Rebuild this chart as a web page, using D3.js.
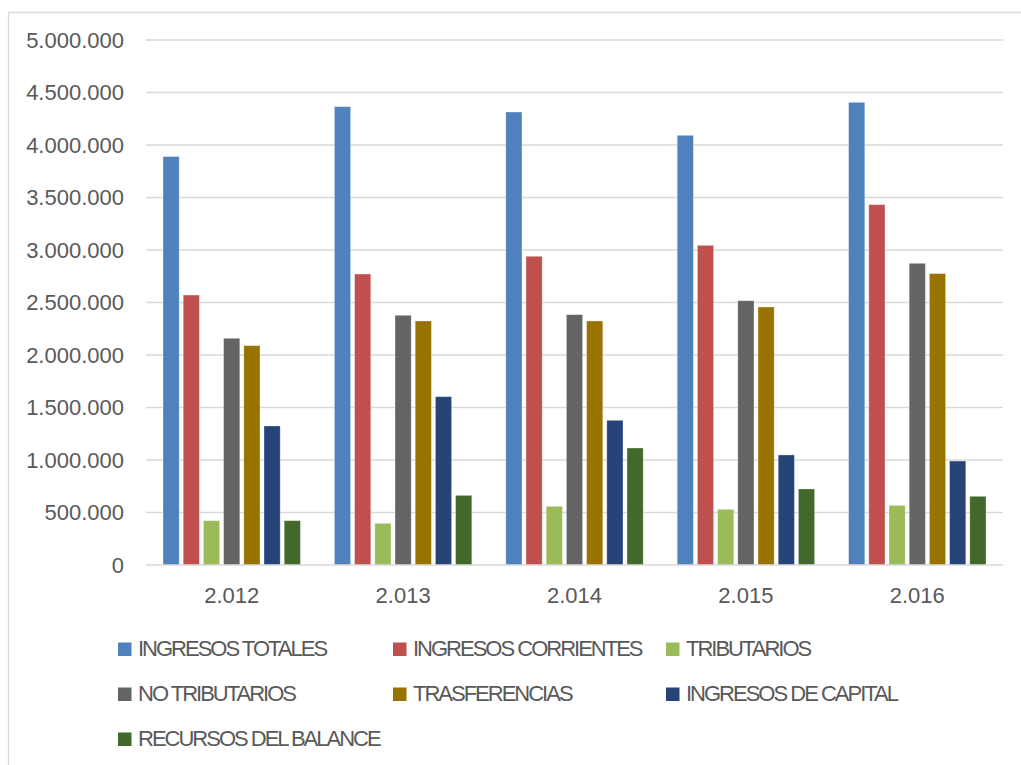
<!DOCTYPE html>
<html>
<head>
<meta charset="utf-8">
<script src="https://cdn.jsdelivr.net/npm/d3@7/dist/d3.min.js"></script>
<style>
  html, body { margin: 0; padding: 0; background: #fff; }
  svg { display: block; font-family: "Liberation Sans", Arial, sans-serif; }
</style>
</head>
<body>
<svg id="chart" width="1021" height="765"></svg>
<script>
// Years on the category axis
const years = ["2.012", "2.013", "2.014", "2.015", "2.016"];

// Series names (legend order) and their fill colours
const seriesNames = [
  "INGRESOS TOTALES",
  "INGRESOS CORRIENTES",
  "TRIBUTARIOS",
  "NO TRIBUTARIOS",
  "TRASFERENCIAS",
  "INGRESOS DE CAPITAL",
  "RECURSOS DEL BALANCE"
];
const seriesColors = ["#4F81BD", "#C0504D", "#9BBB59", "#646464", "#997300", "#264478", "#43682B"];

// Values per series, one per year
const ingresosTotales     = [3890000, 4365000, 4314000, 4092000, 4406000];
const ingresosCorrientes  = [2571000, 2771000, 2940000, 3044000, 3432000];
const tributarios         = [422000, 397000, 559000, 530000, 568000];
const noTributarios       = [2159000, 2378000, 2384000, 2517000, 2873000];
const trasferencias       = [2089000, 2324000, 2324000, 2457000, 2775000];
const ingresosDeCapital   = [1324000, 1603000, 1378000, 1048000, 990000];
const recursosDelBalance  = [422000, 663000, 1114000, 724000, 654000];

// Value-axis ticks
const yTicks = [0, 500000, 1000000, 1500000, 2000000, 2500000, 3000000, 3500000, 4000000, 4500000, 5000000];

const seriesValues = [
  ingresosTotales, ingresosCorrientes, tributarios, noTributarios,
  trasferencias, ingresosDeCapital, recursosDelBalance
];

const svg = d3.select("#chart");

// Chart frame (top and left edges visible)
svg.append("path")
  .attr("d", "M8.5,765 L8.5,12.5 L1021,12.5")
  .attr("fill", "none")
  .attr("stroke", "#D9D9D9")
  .attr("stroke-width", 1.3);

const plot = { left: 146, right: 1003, top: 40, bottom: 565 };

const y = d3.scaleLinear().domain([0, 5000000]).range([plot.bottom, plot.top]);

const x0 = d3.scaleBand()
  .domain(years)
  .range([plot.left, plot.right])
  .paddingInner(0.175)
  .paddingOuter(0.0875);

const x1 = d3.scaleBand()
  .domain(d3.range(seriesNames.length))
  .range([0, x0.bandwidth()])
  .paddingInner(0.2)
  .paddingOuter(0.1);

// Horizontal gridlines
svg.append("g")
  .selectAll("line")
  .data(yTicks.filter(d => d > 0))
  .join("line")
  .attr("x1", plot.left)
  .attr("x2", plot.right)
  .attr("y1", d => y(d))
  .attr("y2", d => y(d))
  .attr("stroke", "#D9D9D9")
  .attr("stroke-width", 1.3);

// Value-axis labels
const fmt = v => d3.format(",")(v).replace(/,/g, ".");
svg.append("g")
  .selectAll("text")
  .data(yTicks)
  .join("text")
  .attr("x", 124)
  .attr("y", d => y(d))
  .attr("dy", "0.36em")
  .attr("text-anchor", "end")
  .attr("font-size", 22)
  .attr("fill", "#595959")
  .text(d => fmt(d));

// Bars
const groups = svg.append("g")
  .selectAll("g")
  .data(years.map((yr, i) => ({ yr, i })))
  .join("g")
  .attr("transform", d => `translate(${x0(d.yr)},0)`);

groups.selectAll("rect")
  .data(d => seriesValues.map((vals, s) => ({ s, v: vals[d.i] })))
  .join("rect")
  .attr("x", d => x1(d.s))
  .attr("width", x1.bandwidth())
  .attr("y", d => y(d.v))
  .attr("height", d => y(0) - y(d.v))
  .attr("fill", d => seriesColors[d.s])
  .attr("stroke", "#fff")
  .attr("stroke-opacity", 0.35)
  .attr("stroke-width", 0.8);

// Baseline
svg.append("line")
  .attr("x1", plot.left)
  .attr("x2", plot.right)
  .attr("y1", y(0))
  .attr("y2", y(0))
  .attr("stroke", "#D9D9D9")
  .attr("stroke-width", 1.5);

// Category labels
svg.append("g")
  .selectAll("text")
  .data(years)
  .join("text")
  .attr("x", d => x0(d) + x0.bandwidth() / 2)
  .attr("y", 603)
  .attr("text-anchor", "middle")
  .attr("font-size", 22)
  .attr("fill", "#595959")
  .text(d => d);

// Legend: three columns, three rows
const legendCols = [118, 393, 666];
const legendRows = [649, 694, 739];
const legend = svg.append("g")
  .selectAll("g")
  .data(seriesNames.map((name, i) => ({ name, i })))
  .join("g")
  .attr("transform", d => `translate(${legendCols[d.i % 3]},${legendRows[Math.floor(d.i / 3)]})`);

legend.append("rect")
  .attr("x", 0)
  .attr("y", -6.5)
  .attr("width", 13.5)
  .attr("height", 13.5)
  .attr("fill", d => seriesColors[d.i]);

legend.append("text")
  .attr("x", 20)
  .attr("y", 7)
  .attr("font-size", 22)
  .attr("letter-spacing", "-2px")
  .attr("fill", "#595959")
  .text(d => d.name);
</script>
</body>
</html>
